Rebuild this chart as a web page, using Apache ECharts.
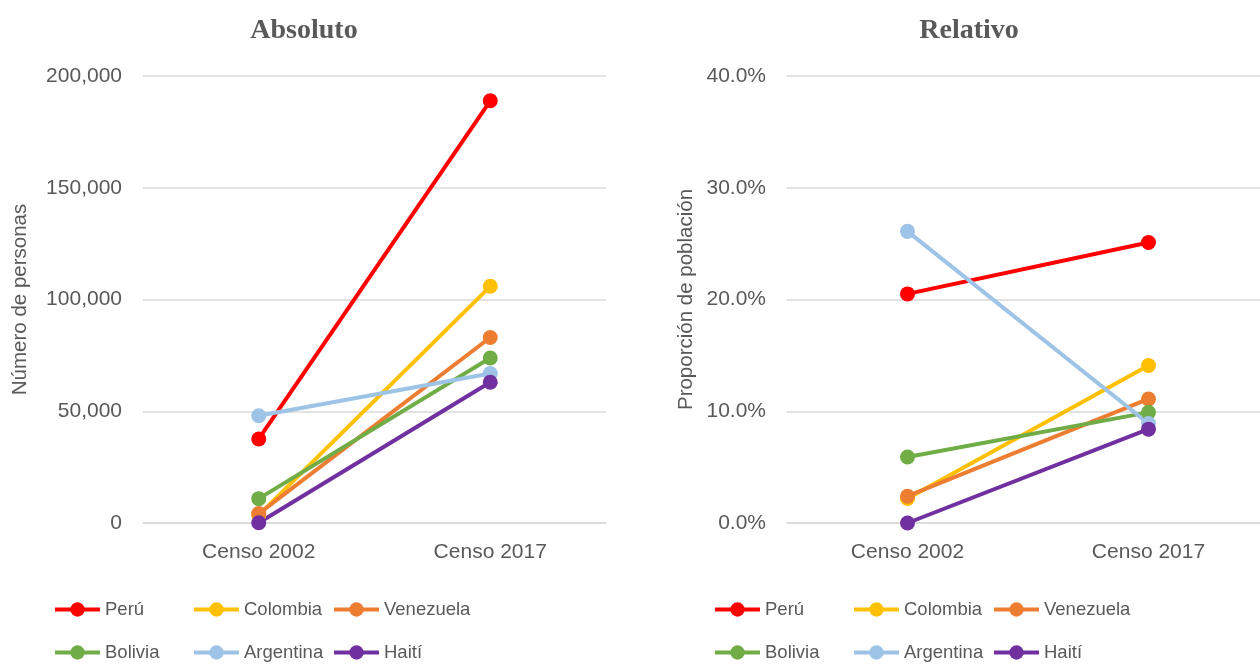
<!DOCTYPE html>
<html>
<head>
<meta charset="utf-8">
<script src="https://cdn.jsdelivr.net/npm/echarts@6/dist/echarts.min.js"></script>
<style>
  html, body { margin: 0; padding: 0; background: #fff; }
  #chart { width: 1260px; height: 664px; }
</style>
</head>
<body>
<div id="chart"></div>
<script>
const censos = ['Censo 2002', 'Censo 2017'];
const paises = ['Perú', 'Colombia', 'Venezuela', 'Bolivia', 'Argentina', 'Haití'];
const colores = ['#FF0000', '#FFC000', '#ED7D31', '#70AD47', '#9DC3E6', '#7030A0'];

// absoluto (personas)
const absPeru = [37600, 188900];
const absColombia = [3500, 105900];
const absVenezuela = [4200, 83000];
const absBolivia = [10900, 73800];
const absArgentina = [48000, 66900];
const absHaiti = [100, 63000];

// relativo (%)
const relPeru = [20.5, 25.1];
const relColombia = [2.2, 14.1];
const relVenezuela = [2.4, 11.1];
const relBolivia = [5.9, 9.9];
const relArgentina = [26.1, 8.9];
const relHaiti = [0.0, 8.4];

const absData = [absPeru, absColombia, absVenezuela, absBolivia, absArgentina, absHaiti];
const relData = [relPeru, relColombia, relVenezuela, relBolivia, relArgentina, relHaiti];

const gris = '#595959';
const fuente = 'Liberation Sans';

let myChart = echarts.init(document.getElementById('chart'));

function mkSeries(data, idx) {
    return paises.map((p, i) => ({
        name: p,
        type: 'line',
        xAxisIndex: idx,
        yAxisIndex: idx,
        data: data[i],
        symbol: 'circle',
        symbolSize: 15,
        color: colores[i],
        lineStyle: {width: 4, color: colores[i]},
        itemStyle: {color: colores[i]},
        animation: false
    }));
}

// legends: one per item so the columns line up like the original
const colLeft = [[53, 192, 332], [713, 852, 992]];
const rowTop = [600, 643];
let legends = [];
[0, 1].forEach(g => {
    paises.forEach((p, i) => {
        legends.push({
            data: [p],
            left: colLeft[g][i % 3],
            top: rowTop[Math.floor(i / 3)],
            padding: 0,
            itemWidth: 45,
            itemHeight: 18,
            itemGap: 0,
            lineStyle: {width: 4},
            textStyle: {fontFamily: fuente, fontSize: 18.5, color: gris}
        });
    });
});

function xAxisOpt(idx) {
    return {
        type: 'category',
        gridIndex: idx,
        data: censos,
        axisLine: {lineStyle: {color: '#d9d9d9', width: 1.5}},
        axisTick: {show: false},
        axisLabel: {fontFamily: fuente, fontSize: 21, color: gris, margin: 19}
    };
}

myChart.setOption({
    backgroundColor: '#fff',
    title: [
        {text: 'Absoluto', left: 299, top: 12, textAlign: 'center',
         textStyle: {fontFamily: 'Liberation Serif', fontWeight: 'bold', fontSize: 28, color: gris}},
        {text: 'Relativo', left: 964, top: 12, textAlign: 'center',
         textStyle: {fontFamily: 'Liberation Serif', fontWeight: 'bold', fontSize: 28, color: gris}}
    ],
    legend: legends,
    grid: [
        {left: 143, top: 76, width: 463, height: 447, outerBoundsMode: 'none'},
        {left: 787, top: 76, width: 482, height: 447, outerBoundsMode: 'none'}
    ],
    xAxis: [xAxisOpt(0), xAxisOpt(1)],
    yAxis: [
        {
            type: 'value', gridIndex: 0, min: 0, max: 200000, interval: 50000,
            name: 'Número de personas', nameLocation: 'middle', nameGap: 112,
            nameTextStyle: {fontFamily: fuente, fontSize: 20.5, color: gris},
            axisLine: {show: false}, axisTick: {show: false},
            axisLabel: {fontFamily: fuente, fontSize: 21, color: gris, margin: 21,
                formatter: v => v.toLocaleString('en-US')},
            splitLine: {lineStyle: {color: '#d9d9d9', width: 1.5}}
        },
        {
            type: 'value', gridIndex: 1, min: 0, max: 40, interval: 10,
            name: 'Proporción de población', nameLocation: 'middle', nameGap: 90,
            nameTextStyle: {fontFamily: fuente, fontSize: 20.5, color: gris},
            axisLine: {show: false}, axisTick: {show: false},
            axisLabel: {fontFamily: fuente, fontSize: 21, color: gris, margin: 21,
                formatter: v => v.toFixed(1) + '%'},
            splitLine: {lineStyle: {color: '#d9d9d9', width: 1.5}}
        }
    ],
    series: mkSeries(absData, 0).concat(mkSeries(relData, 1))
});
</script>
</body>
</html>
